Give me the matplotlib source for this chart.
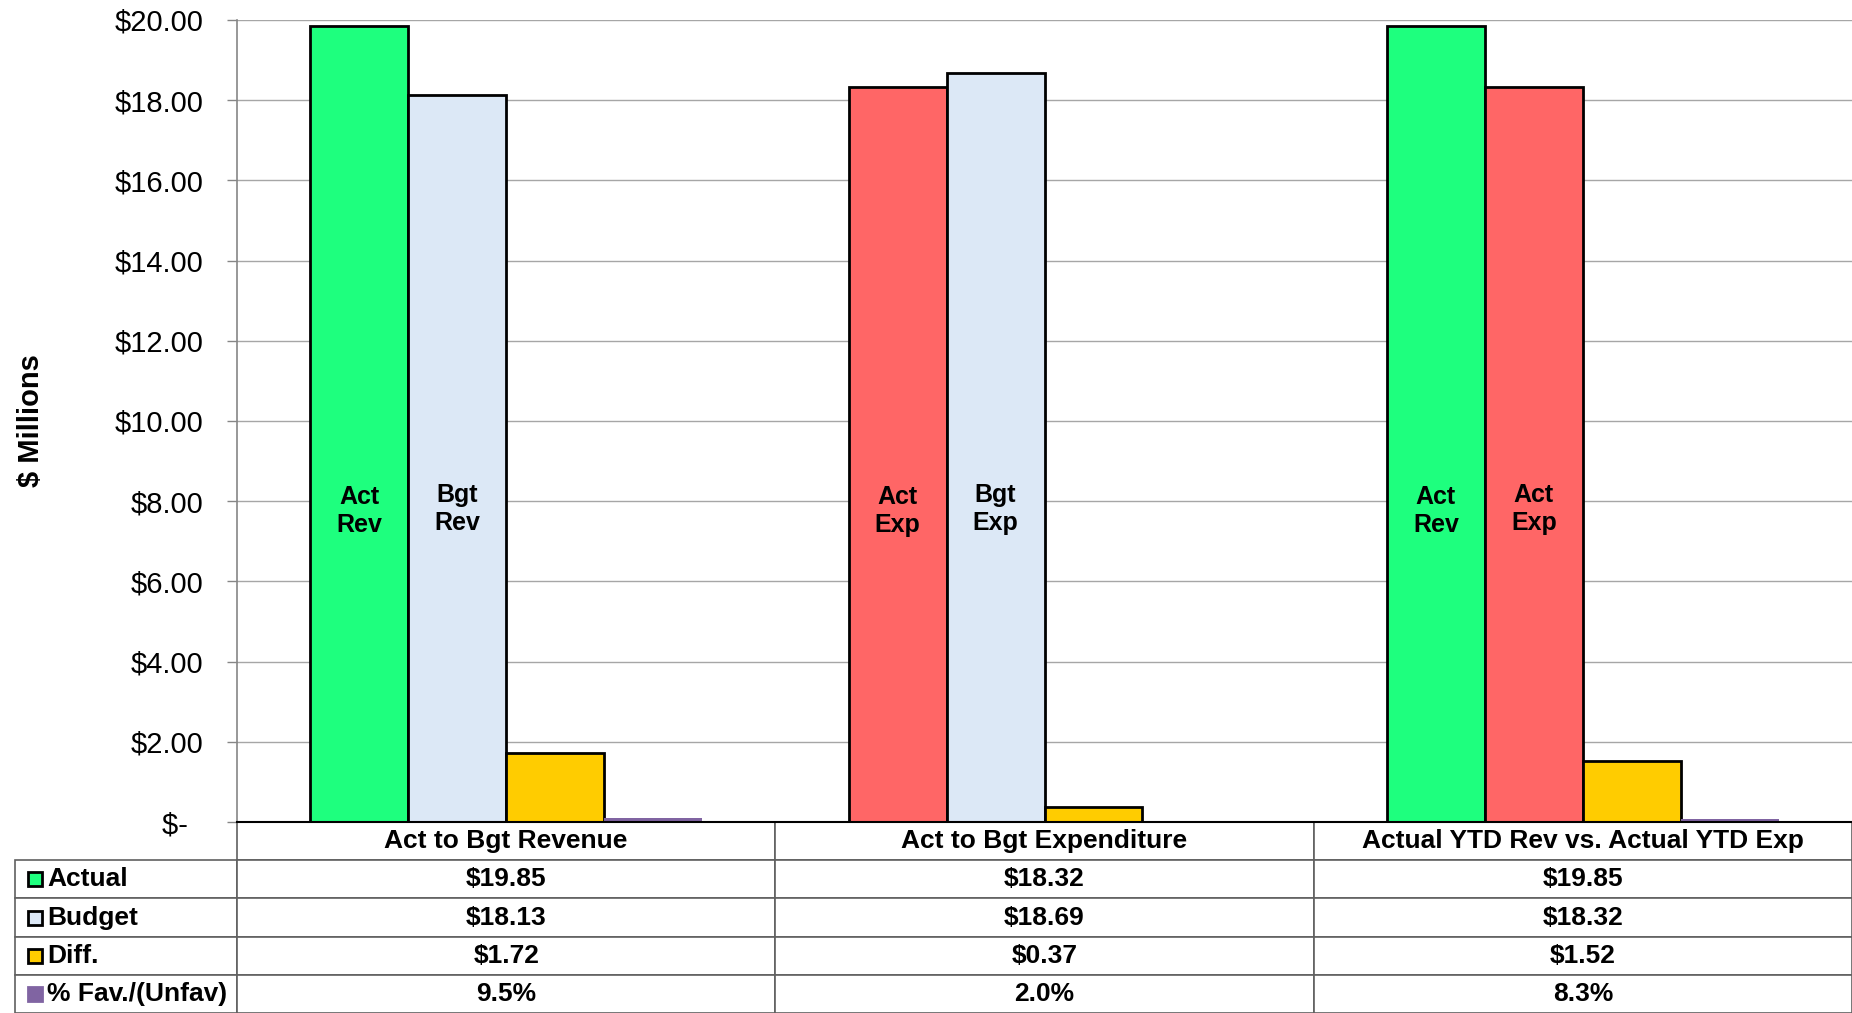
import numpy as np
import matplotlib
matplotlib.use('Agg')
import matplotlib.pyplot as plt
from matplotlib.patches import Rectangle
from matplotlib.ticker import FuncFormatter, MultipleLocator

plt.rcParams['font.family'] = ['Liberation Sans', 'DejaVu Sans']

# 数据
categories = ['Act to Bgt Revenue', 'Act to Bgt Expenditure', 'Actual YTD Rev vs. Actual YTD Exp']
row_names = ['Actual', 'Budget', 'Diff.', '% Fav./(Unfav)']
actual = [19.85, 18.32, 19.85]
budget = [18.13, 18.69, 18.32]
diff = [1.72, 0.37, 1.52]
pct_fav = [9.5, 2.0, 8.3]          # percent
actual_tags = ['Act\nRev', 'Act\nExp', 'Act\nRev']
budget_tags = ['Bgt\nRev', 'Bgt\nExp', 'Act\nExp']

GREEN = '#1EFF7E'
RED = '#FF6666'
BLUE = '#DCE8F6'
YELLOW = '#FFCC00'
PURPLE = '#8064A2'
actual_colors = [GREEN, RED, GREEN]
budget_colors = [BLUE, BLUE, RED]

W, H = 1852, 1013
AX_L, AX_R, AX_T, AX_B = 237, 1852, 20, 822
ax_w, ax_h = AX_R - AX_L, AX_B - AX_T
fig = plt.figure(figsize=(W / 100, H / 100), dpi=100)
ax = fig.add_axes([AX_L / W, 1 - AX_B / H, ax_w / W, ax_h / H])

x = np.arange(len(categories))
bw = 0.182
ax.bar(x - 1.5 * bw, actual, bw, color=actual_colors, edgecolor='black', linewidth=2, zorder=3)
ax.bar(x - 0.5 * bw, budget, bw, color=budget_colors, edgecolor='black', linewidth=2, zorder=3)
ax.bar(x + 0.5 * bw, diff, bw, color=YELLOW, edgecolor='black', linewidth=2, zorder=3)
ax.bar(x + 1.5 * bw, np.array(pct_fav) / 100.0, bw, color=PURPLE, linewidth=0, zorder=3)

for i in range(len(categories)):
    ax.text(x[i] - 1.5 * bw, 7.75, actual_tags[i], ha='center', va='center',
            fontsize=18, fontweight='bold', zorder=4, linespacing=1.2)
    ax.text(x[i] - 0.5 * bw, 7.8, budget_tags[i], ha='center', va='center',
            fontsize=18, fontweight='bold', zorder=4, linespacing=1.2)

ax.set_xlim(-0.5, len(categories) - 0.5)
ax.set_ylim(0, 20)
ax.yaxis.set_major_locator(MultipleLocator(2))
ax.yaxis.set_major_formatter(FuncFormatter(lambda v, p: '$-  ' if v == 0 else f'${v:.2f}'))
ax.tick_params(axis='y', labelsize=21, length=7, width=1, color='#868686', pad=17)
ax.set_xticks([])
ax.grid(axis='y', color='#A6A6A6', linewidth=1, zorder=0)
ax.set_ylabel('$ Millions', fontsize=21, fontweight='bold', labelpad=50)

for s in ['top', 'right']:
    ax.spines[s].set_visible(False)
ax.spines['left'].set_color('#868686')
ax.spines['left'].set_linewidth(1.2)
ax.spines['bottom'].set_color('black')
ax.spines['bottom'].set_linewidth(1.5)
ax.spines['bottom'].set_zorder(5)

# 数据表
label_w = (AX_L - 15) / ax_w
tbl_h = (H - AX_B) / ax_h
cell_text = [
    [row_names[0]] + [f'${v:.2f}' for v in actual],
    [row_names[1]] + [f'${v:.2f}' for v in budget],
    [row_names[2]] + [f'${v:.2f}' for v in diff],
    [row_names[3]] + [f'{v:.1f}%' for v in pct_fav],
]
tbl = ax.table(cellText=cell_text, colLabels=[''] + categories, cellLoc='center',
               colWidths=[label_w] + [1 / 3] * 3,
               bbox=[-label_w, -tbl_h, 1 + label_w, tbl_h])
tbl.auto_set_font_size(False)
tbl.set_fontsize(19)
for (r, c), cell in tbl.get_celld().items():
    cell.set_edgecolor('#606060')
    cell.set_linewidth(1.2)
    cell.get_text().set_fontweight('bold')
    if c == 0:
        cell.get_text().set_horizontalalignment('left')
        cell.PAD = 32 / (AX_L - 15)
    if r == 0 and c == 0:
        cell.visible_edges = ''

# 图例色块
key_colors = [GREEN, BLUE, YELLOW, PURPLE]
row_h = tbl_h / 5
kw = 14 / ax_w
kh = 14 / ax_h
for k, col in enumerate(key_colors):
    yc = -row_h * (k + 1.5)
    ax.add_patch(Rectangle(((28 - AX_L) / ax_w, yc - kh / 2), kw, kh, transform=ax.transAxes,
                           facecolor=col, edgecolor='black' if k < 3 else col,
                           linewidth=2, clip_on=False, zorder=6))

fig.savefig('out.png', dpi=100)
